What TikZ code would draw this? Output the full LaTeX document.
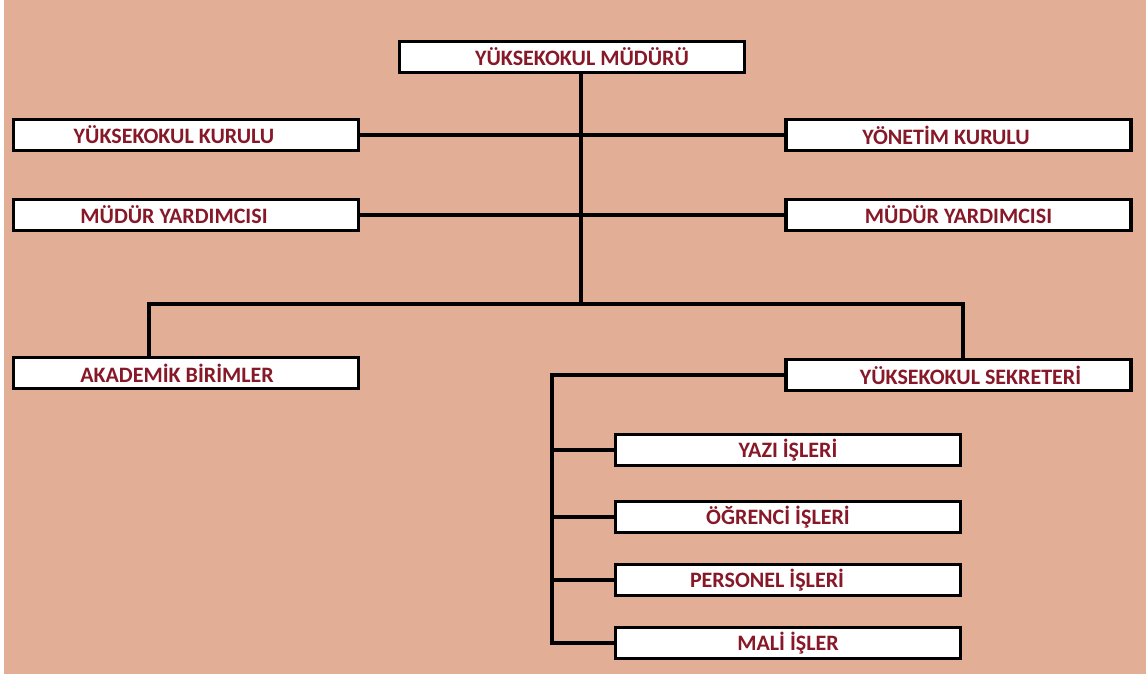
\documentclass[tikz,border=0pt]{standalone}
\usepackage{fontspec}
\setmainfont{Carlito}
\definecolor{bgsalmon}{RGB}{227,174,150}
\definecolor{txtred}{RGB}{135,24,40}
\begin{document}
\begin{tikzpicture}[x=1pt,y=-1pt,
  unit/.style={draw=black, line width=3.4pt, fill=white, minimum width=345pt, minimum height=31pt,
    inner sep=0pt, text=txtred, font=\fontsize{22}{24}\selectfont\bfseries},
  conn/.style={draw=black, line width=3.4pt}]
\useasboundingbox (0,0) rectangle (1146,677);
\fill[white] (0,0) rectangle (1146,677);
\fill[bgsalmon] (4,0) rectangle (1146,674);
% nodes
\node[unit] (top) at (572,57) {\kern20pt YÜKSEKOKUL MÜDÜRÜ};
\node[unit] (yk) at (186,135) {YÜKSEKOKUL KURULU\kern24pt};
\node[unit] (yon) at (958.5,135) {YÖNETİM KURULU\kern25pt};
\node[unit] (my1) at (186,215) {MÜDÜR YARDIMCISI\kern24pt};
\node[unit] (my2) at (958.5,215) {MÜDÜR YARDIMCISI};
\node[unit] (ak) at (186,373) {AKADEMİK BİRİMLER\kern18pt};
\node[unit] (sek) at (958.5,375) {\kern24pt YÜKSEKOKUL SEKRETERİ};
\node[unit] (yazi) at (788,450) {YAZI İŞLERİ};
\node[unit] (ogr) at (788,517) {ÖĞRENCİ İŞLERİ\kern20pt};
\node[unit] (per) at (788,580) {PERSONEL İŞLERİ\kern42pt};
\node[unit] (mali) at (788,643) {MALİ İŞLER};
% junction coordinates
\coordinate (j) at (581,304);
\coordinate (jl) at (149,304);
\coordinate (jr) at (963,304);
\coordinate (vx) at (552,0);
% connectors
\draw[conn] (top.south -| j) -- (j);
\draw[conn] (yk.east) -- (yon.west);
\draw[conn] (my1.east) -- (my2.west);
\draw[conn] (jl |- ak.north) -- (jl) -- (jr) -- (jr |- sek.north);
\draw[conn] (sek.west) -- (vx |- sek.west) |- (mali.west);
\draw[conn] (vx |- yazi.west) -- (yazi.west);
\draw[conn] (vx |- ogr.west) -- (ogr.west);
\draw[conn] (vx |- per.west) -- (per.west);
\end{tikzpicture}
\end{document}
